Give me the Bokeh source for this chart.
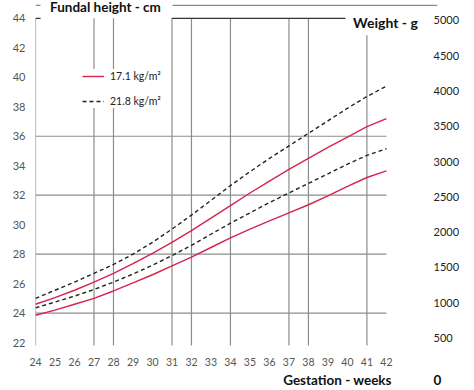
from bokeh.plotting import figure
from bokeh.models import Range1d, LinearAxis, FixedTicker, Legend, LegendItem, Label
from bokeh.embed import file_html
from bokeh.resources import INLINE

# ---- data ----
weeks = list(range(24, 43))
# fundal height (cm), left axis
fundal_17 = [23.85, 24.2, 24.6, 25.0, 25.5, 26.05, 26.6, 27.2, 27.8, 28.45, 29.1, 29.7, 30.25, 30.8, 31.35, 31.95, 32.6, 33.2, 33.65]
fundal_22 = [24.35, 24.75, 25.15, 25.6, 26.1, 26.65, 27.25, 27.9, 28.6, 29.35, 30.1, 30.8, 31.5, 32.15, 32.8, 33.45, 34.1, 34.7, 35.15]
# weight (g), right axis
weight_17 = [978, 1072, 1176, 1291, 1416, 1552, 1698, 1855, 2021, 2199, 2376, 2554, 2721, 2888, 3044, 3200, 3347, 3493, 3608]
weight_22 = [1061, 1176, 1291, 1416, 1541, 1687, 1855, 2042, 2241, 2449, 2658, 2856, 3044, 3221, 3399, 3576, 3754, 3921, 4067]

series_labels = ["17.1 kg/m\u00b2", "21.8 kg/m\u00b2"]
vgrid_weeks = [24, 27, 28, 31, 32, 34, 37, 38, 41]
hgrid_cm = [24, 28, 32, 36]
left_ticks = list(range(22, 45, 2))
right_ticks = list(range(0, 5001, 500))

FONT = "Lato"
RED = "#d8234e"
GRID = "#8c8c8c"
X_END = 44.62
ZERO_X = 44.61
XLABEL_X = 39.49

p = figure(width=466, height=390, output_backend="svg", toolbar_location=None,
           title=None, x_range=Range1d(24, X_END), y_range=Range1d(21.664, 45.211),
           min_border_left=35, min_border_right=29, min_border_top=0, min_border_bottom=40)
p.extra_y_ranges = {"weight": Range1d(365, 5281)}
p.outline_line_color = None
p.xgrid.visible = False
p.ygrid.visible = False
p.background_fill_color = "white"
p.border_fill_color = "white"


def plain(ax, size, color, standoff):
    ax.axis_line_color = None
    ax.major_tick_line_color = None
    ax.minor_tick_line_color = None
    ax.major_tick_out = 0
    ax.major_tick_in = 0
    ax.minor_tick_out = 0
    ax.major_label_standoff = standoff
    ax.major_label_text_font = FONT
    ax.major_label_text_font_size = size
    ax.major_label_text_color = color


# bottom axis: gestation weeks
xa = p.xaxis[0]
xa.ticker = FixedTicker(ticks=weeks)
plain(xa, "10.5px", "#555555", 10)

# second bottom axis: axis title and the weight "0" that sits below the frame
xa2 = LinearAxis(ticker=FixedTicker(ticks=[XLABEL_X, ZERO_X]),
                 major_label_overrides={XLABEL_X: "Gestation - weeks", ZERO_X: "0"})
plain(xa2, "13.5px", "#111111", 3)
xa2.major_label_text_font_style = "bold"
p.add_layout(xa2, "below")

# left axis: fundal height
ya = p.yaxis[0]
ya.ticker = FixedTicker(ticks=left_ticks)
plain(ya, "11px", "#555555", 10)

# right axis: weight
ra = LinearAxis(y_range_name="weight", ticker=FixedTicker(ticks=right_ticks))
plain(ra, "11px", "#222222", -4)
p.add_layout(ra, "right")

# grid lines
vtops = [42.86 if w == 41 else 44 for w in vgrid_weeks]
p.segment(x0=vgrid_weeks, y0=[21.8] * len(vgrid_weeks), x1=vgrid_weeks, y1=vtops,
          line_color=GRID, line_width=1.2)
p.segment(x0=[24] * len(hgrid_cm), y0=hgrid_cm, x1=[42] * len(hgrid_cm), y1=hgrid_cm,
          line_color=GRID, line_width=1.2)
p.segment(x0=[31, 24], y0=[44, 44], x1=[39.9, 24.26], y1=[44, 44], line_color="#333333", line_width=1.2)

# top rule around the left title
p.segment(x0=[24, 31.03], y0=[44.875, 44.875], x1=[24.256, X_END], y1=[44.875, 44.875],
          line_color="#8a8a8a", line_width=1.2)

# curves
r_f17 = p.line(weeks, fundal_17, line_color=RED, line_width=1.4)
r_f22 = p.line(weeks, fundal_22, line_color="#222222", line_width=1.4, line_dash="4 3")
p.line(weeks, weight_17, line_color=RED, line_width=1.4, y_range_name="weight")
p.line(weeks, weight_22, line_color="#222222", line_width=1.4, line_dash="4 3", y_range_name="weight")

legend = Legend(items=[LegendItem(label=series_labels[0], renderers=[r_f17]),
                       LegendItem(label=series_labels[1], renderers=[r_f22])],
                location=(47, 239))
legend.background_fill_color = "white"
legend.background_fill_alpha = 1
legend.border_line_color = None
legend.label_text_font = FONT
legend.label_text_font_size = "10.5px"
legend.label_text_color = "#222222"
legend.glyph_width = 22
legend.glyph_height = 12
legend.label_standoff = 6
legend.padding = 8
legend.spacing = 11
legend.label_height = 14
legend.margin = 0
p.add_layout(legend, "center")

p.add_layout(Label(x=27.59, y=44.74, text="Fundal height - cm", text_align="center",
                   text_baseline="middle", text_font=FONT, text_font_style="bold",
                   text_font_size="13.5px", text_color="#111111",
                   background_fill_color="white"))
p.add_layout(Label(x=41.95, y=43.73, text="Weight - g", text_align="center",
                   text_baseline="middle", text_font=FONT, text_font_style="bold",
                   text_font_size="14px", text_color="#111111"))

open("out.html", "w").write(file_html(p, INLINE))
